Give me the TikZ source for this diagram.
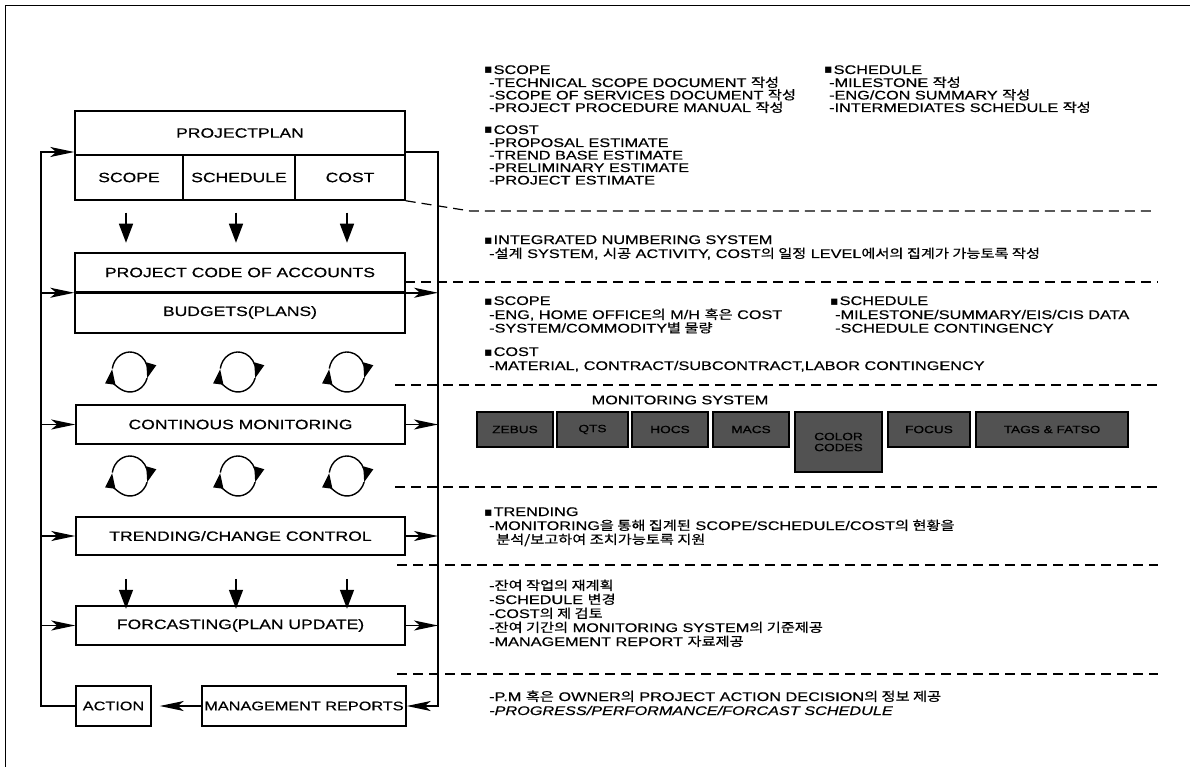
\documentclass[tikz,border=0pt]{standalone}
\usepackage{fontspec}
\setmainfont{Liberation Sans}[FakeStretch=1.3,FakeBold=0.6]
\newfontfamily\kr{Noto Sans CJK KR}[FakeStretch=1.22,FakeBold=0.8]
\newfontfamily\dv{DejaVu Sans}
\newcommand\K[1]{{\kr #1}}
\newcommand\sq{{\dv ▪}\hspace{1pt}}
\usetikzlibrary{arrows.meta,calc}
\newcommand\cycl[2]{%
  \draw[cyc] (#1,#2) ++(190:18 and 20) arc[start angle=190,end angle=378,x radius=18,y radius=20];
  \draw[cyc] (#1,#2) ++(18:18 and 20) arc[start angle=18,end angle=188,x radius=18,y radius=20];}
\begin{document}
\begin{tikzpicture}[x=1pt,y=-1pt,
  box/.style={draw,line width=1.5pt,inner sep=0pt,font=\fontsize{13.5}{14}\selectfont},
  arr/.style={line width=1.5pt,-{Stealth[length=24pt,width=10pt,inset=6pt]}},
  darr/.style={line width=1.5pt,-{Triangle[length=19pt,width=14pt]}},
  cyc/.style={line width=1.4pt,-{Triangle[length=15pt,width=10pt]}},
  dl/.style={line width=1.2pt,dash pattern=on 10pt off 6pt},
  txt/.style={anchor=base west,inner sep=0pt,font=\fontsize{12.5}{12.5}\selectfont},
  mbox/.style={draw=black,line width=1.2pt,fill=black!68,inner sep=0pt,font=\fontsize{10.5}{11}\selectfont,text=black,align=center}]
\useasboundingbox (0,0) rectangle (1198,767);
\draw[line width=0.8pt] (5,767) -- (5,5) -- (1190,5);

% left chart
\node[box,minimum width=330pt,minimum height=44pt] (pp) at (240,133) {PROJECTPLAN};
\node[box,minimum width=108pt,minimum height=45pt] (sc) at (129,177.5) {SCOPE};
\node[box,minimum width=112pt,minimum height=45pt] (sh) at (239,177.5) {SCHEDULE};
\node[box,minimum width=110pt,minimum height=45pt] (co) at (350,177.5) {COST};
\node[box,minimum width=330pt,minimum height=39pt] (pca) at (240,272.5) {PROJECT CODE OF ACCOUNTS};
\node[box,minimum width=330pt,minimum height=41pt] (bud) at (240,312.5) {BUDGETS(PLANS)};
\node[box,minimum width=329pt,minimum height=39pt] (cm) at (240.5,424.5) {CONTINOUS MONITORING};
\node[box,minimum width=329pt,minimum height=38pt] (tr) at (240.5,536) {TRENDING/CHANGE CONTROL};
\node[box,minimum width=329pt,minimum height=39pt] (fc) at (240.5,625.5) {FORCASTING(PLAN UPDATE)};
\node[box,minimum width=75pt,minimum height=40pt,font=\fontsize{12.5}{13}\selectfont] (act) at (113.5,706) {ACTION};
\node[box,minimum width=204pt,minimum height=40pt,font=\fontsize{12.5}{13}\selectfont] (mr) at (304,706) {MANAGEMENT REPORTS};
\draw[line width=3pt] (pca.south west) -- (pca.south east);

\coordinate (L1) at (41,152);
\coordinate (L6) at (41,706);
\coordinate (R1) at (438,152);
\coordinate (R6) at (438,706);

\draw[arr] (act.west) -- (L6) -- (L1) -- (L1 -| pp.west);
\draw[arr] (pp.east |- R1) -- (R1) -- (R6) -- (mr.east);
\draw[arr] (mr.west) -- ([xshift=8pt]act.east);
\draw[arr] (L1 |- pca.south) -- (pca.south west);
\draw[arr] (L1 |- cm.west) -- (cm.west);
\draw[arr] (L1 |- tr.west) -- (tr.west);
\draw[arr] (L1 |- fc.west) -- (fc.west);
\draw[arr] (pca.south east) -- (R1 |- pca.south);
\draw[arr] (cm.east) -- (R1 |- cm.east);
\draw[arr] (tr.east) -- (R1 |- tr.east);
\draw[arr] (fc.east) -- (R1 |- fc.east);

\foreach \n in {sc,sh,co}{
  \draw[darr] ($(\n.south)+(-3,12)$) -- ($(\n.south)+(-3,42)$);
  \draw[darr] ($(\n.south)+(-3,378)$) -- ($(\n.south)+(-3,408)$);}

\cycl{130}{372}\cycl{238}{372}\cycl{347}{372}
\cycl{130}{476}\cycl{238}{476}\cycl{347}{476}

% dashed separators
\draw[dl] (co.south east) -- (470,211) -- (1152,211);
\draw[dl] (405,282) -- (1158,282);
\draw[dl] (395,385) -- (1158,385);
\draw[dl] (395,487) -- (1158,487);
\draw[dl] (397,565) -- (1158,565);
\draw[dl] (397,674) -- (1158,674);

% right texts
\node[txt] (t1) at (484,74) {\sq SCOPE};
\node[txt] (t2) at (489,87) {-TECHNICAL SCOPE DOCUMENT \K{작성}};
\node[txt] (t3) at (489,99.5) {-SCOPE OF SERVICES DOCUMENT \K{작성}};
\node[txt] (t4) at (489,112) {-PROJECT PROCEDURE MANUAL \K{작성}};
\node[txt] (t5) at (484,134) {\sq COST};
\node[txt] (t6) at (489,147) {-PROPOSAL ESTIMATE};
\node[txt] (t7) at (489,159.5) {-TREND BASE ESTIMATE};
\node[txt] (t8) at (489,172) {-PRELIMINARY ESTIMATE};
\node[txt] (t9) at (489,184.5) {-PROJECT ESTIMATE};
\node[txt] (u1) at (824,74) {\sq SCHEDULE};
\node[txt] (u2) at (829,87) {-MILESTONE \K{작성}};
\node[txt] (u3) at (829,99.5) {-ENG/CON SUMMARY \K{작성}};
\node[txt] (u4) at (829,112) {-INTERMEDIATES SCHEDULE \K{작성}};

\node[txt] (i1) at (484,244) {\sq INTEGRATED NUMBERING SYSTEM};
\node[txt] (i2) at (489,258) {-\K{설계} SYSTEM, \K{시공} ACTIVITY, COST\K{의 일정} LEVEL\K{에서의 집계가 가능토록 작성}};

\node[txt] (b1) at (484,305) {\sq SCOPE};
\node[txt] (b2) at (489,319) {-ENG, HOME OFFICE\K{의} M/H \K{혹은} COST};
\node[txt] (b3) at (489,332.5) {-SYSTEM/COMMODITY\K{별 물량}};
\node[txt] (b4) at (484,356) {\sq COST};
\node[txt] (b5) at (489,370) {-MATERIAL, CONTRACT/SUBCONTRACT,LABOR CONTINGENCY};
\node[txt] (c1) at (830,305) {\sq SCHEDULE};
\node[txt] (c2) at (835,319) {-MILESTONE/SUMMARY/EIS/CIS DATA};
\node[txt] (c3) at (835,332.5) {-SCHEDULE CONTINGENCY};

\node[inner sep=0pt,font=\fontsize{12.5}{12.5}\selectfont] (ms) at (680,400) {MONITORING SYSTEM};
\node[mbox,minimum width=76pt,minimum height=35pt] (m1) at (515,429.5) {ZEBUS};
\node[mbox,minimum width=71pt,minimum height=35pt] (m2) at (592.5,429.5) {QTS};
\node[mbox,minimum width=76pt,minimum height=35pt] (m3) at (670,429.5) {HOCS};
\node[mbox,minimum width=76pt,minimum height=35pt] (m4) at (751,429.5) {MACS};
\node[mbox,minimum width=87pt,minimum height=60pt] (m5) at (838.5,442) {COLOR\\CODES};
\node[mbox,minimum width=82pt,minimum height=35pt] (m6) at (929,429.5) {FOCUS};
\node[mbox,minimum width=152pt,minimum height=35pt] (m7) at (1052,429.5) {TAGS \& FATSO};

\node[txt] (r1) at (484,516) {\sq TRENDING};
\node[txt] (r2) at (489,530) {-MONITORING\K{을 통해 집계된} SCOPE/SCHEDULE/COST\K{의 현황을}};
\node[txt] (r3) at (496,544) {\K{분석/보고하여 조치가능토록 지원}};

\node[txt] (f1) at (489,590) {-\K{잔여 작업의 재계획}};
\node[txt] (f2) at (489,604) {-SCHEDULE \K{변경}};
\node[txt] (f3) at (489,618) {-COST\K{의 제 검토}};
\node[txt] (f4) at (489,632) {-\K{잔여 기간의} MONITORING SYSTEM\K{의 기준제공}};
\node[txt] (f5) at (489,646) {-MANAGEMENT REPORT \K{자료제공}};

\node[txt] (g1) at (489,701) {-P.M \K{혹은} OWNER\K{의} PROJECT ACTION DECISION\K{의 정보 제공}};
\node[txt] (g2) at (489,715) {\itshape -PROGRESS/PERFORMANCE/FORCAST SCHEDULE};
\end{tikzpicture}
\end{document}
